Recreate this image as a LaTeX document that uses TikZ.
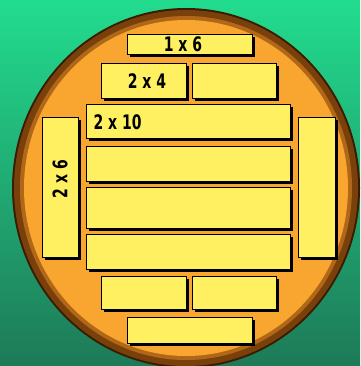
\documentclass[tikz,border=0pt]{standalone}
\usepackage{fontspec}
\setmainfont{DejaVu Sans}
\usetikzlibrary{shadows}
\definecolor{feltlight}{HTML}{22DC8E}
\definecolor{feltdark}{HTML}{1E7A58}
\definecolor{rimdark}{HTML}{3A1C02}
\definecolor{rimbrown}{HTML}{7A400C}
\definecolor{rimlight}{HTML}{B06818}
\definecolor{logface}{HTML}{F8A630}
\definecolor{boardyellow}{HTML}{FFF062}
\newcommand{\cut}[1]{\scalebox{0.7}[1]{#1}}

\begin{document}
\begin{tikzpicture}[x=1pt,y=-1pt,
  board/.style={draw=black,line width=0.9pt,fill=boardyellow,inner sep=0pt,
    drop shadow={shadow xshift=3.2pt,shadow yshift=-3.2pt,fill=black,opacity=1}},
  size/.style={font=\fontsize{20}{20}\selectfont\bfseries}]
\useasboundingbox (0,0) rectangle (360,366);
% felt background
\shade[top color=feltlight,bottom color=feltdark] (0,0) rectangle (360,366);
% log end
\fill[rimdark] (186,188) ellipse [x radius=174,y radius=180];
\fill[rimbrown] (186,188) ellipse [x radius=172,y radius=178];
\fill[rimlight] (186,188) ellipse [x radius=166,y radius=172];
\fill[logface] (186,188) ellipse [x radius=162,y radius=168];
% boards
\node[board,minimum width=125,minimum height=20] (top) at (189.5,44) {};
\node[board,minimum width=85,minimum height=35] (a) at (143.5,80.5) {};
\node[board,minimum width=84,minimum height=35] (b) at (234,80.5) {};
\node[board,minimum width=204,minimum height=34] (p1) at (188,121) {};
\node[board,minimum width=204,minimum height=35] (p2) at (188,163.5) {};
\node[board,minimum width=204,minimum height=41] (p3) at (188,207.5) {};
\node[board,minimum width=204,minimum height=35] (p4) at (188,251.5) {};
\node[board,minimum width=36,minimum height=140] (left) at (60,187) {};
\node[board,minimum width=37,minimum height=140] (right) at (316.5,187) {};
\node[board,minimum width=85,minimum height=33] (c) at (143.5,292.5) {};
\node[board,minimum width=84,minimum height=33] (d) at (234,292.5) {};
\node[board,minimum width=125,minimum height=26] (bottom) at (189.5,330) {};
% labels
\node[size] (ltop) at (183,44.5) {\cut{1 x 6}};
\node[size] (la) at (147,81) {\cut{2 x 4}};
\node[size,anchor=west] (lp1) at (90,122.5) {\cut{2 x 10}};
\node[size,rotate=90] (lleft) at (60,179) {\cut{2 x 6}};
\end{tikzpicture}
\end{document}
